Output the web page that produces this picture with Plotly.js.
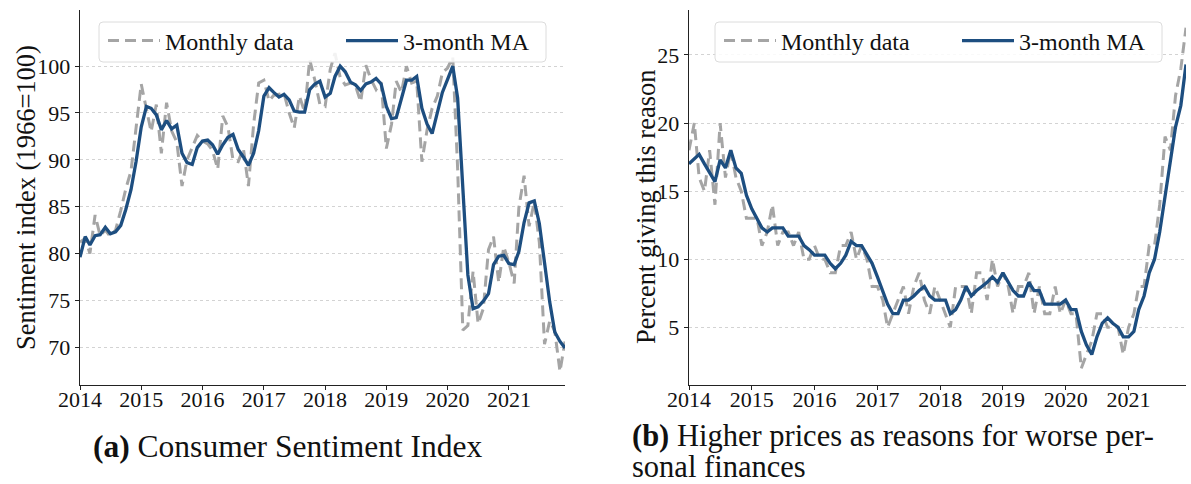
<!DOCTYPE html>
<html>
<head>
<meta charset="utf-8">
<script src="https://cdn.plot.ly/plotly-3.0.1.min.js"></script>
<style>
  html, body { margin: 0; padding: 0; background: #fff; overflow: hidden; }
  #chart { width: 1191px; height: 484px; }
</style>
</head>
<body>
<div id="chart"></div>
<script>
// ---------- data ----------
const startYear = 2014;
const yearTicks = ['2014', '2015', '2016', '2017', '2018', '2019', '2020', '2021'];

// Panel (a): Consumer Sentiment Index, monthly, Jan 2014 - Dec 2021
const sentimentMonthly = [
  81.2, 81.6, 80.0, 84.1, 81.9, 82.5, 81.8, 82.5, 84.6, 86.9, 88.8, 93.6,
  98.1, 95.4, 93.0, 95.9, 90.7, 96.1, 93.1, 91.9, 87.2, 90.0, 91.3, 92.6,
  92.0, 91.7, 91.0, 89.0, 94.7, 93.5, 90.0, 89.8, 91.2, 87.2, 93.8, 98.2,
  98.5, 96.3, 96.9, 97.0, 97.1, 95.0, 93.4, 96.8, 95.1, 100.7, 98.5, 95.9,
  95.7, 99.7, 101.4, 98.8, 98.0, 98.2, 97.9, 96.2, 100.1, 98.6, 97.5, 98.3,
  91.2, 93.8, 98.4, 97.2, 100.0, 98.2, 98.4, 89.8, 93.2, 95.5, 96.8, 99.3,
  99.8, 101.0, 89.1, 71.8, 72.3, 78.1, 72.5, 74.1, 80.4, 81.8, 76.9, 80.7,
  79.0, 76.8, 84.9, 88.3, 82.9, 85.5, 81.2, 70.3, 72.8, 71.7, 67.4, 70.6
];
const sentimentMA = [
  79.6, 81.8, 80.9, 81.9, 82.0, 82.8, 82.1, 82.3, 83.0, 84.7, 86.8, 89.8,
  93.5, 95.7, 95.5, 94.8, 93.2, 94.2, 93.3, 93.7, 90.7, 89.7, 89.5, 91.3,
  92.0, 92.1, 91.6, 90.6, 91.6, 92.4, 92.7, 91.1, 90.3, 89.4, 90.7, 93.1,
  96.8, 97.7, 97.2, 96.7, 97.0, 96.4, 95.2, 95.1, 95.1, 97.5, 98.1, 98.4,
  96.7, 97.1, 98.9, 100.0, 99.4, 98.3, 98.0, 97.4, 98.1, 98.3, 98.7, 98.1,
  95.7, 94.4, 94.5, 96.5, 98.5, 98.5, 98.9, 95.5, 93.8, 92.8, 95.2, 97.2,
  98.6, 100.0, 96.6, 87.3, 77.7, 74.1, 74.3, 74.9, 75.7, 78.8, 79.7, 79.8,
  78.9, 78.8, 80.2, 83.3, 85.4, 85.6, 83.2, 79.0, 74.8, 71.6, 70.6, 69.9
];

// Panel (b): Higher prices as reasons for worse personal finances (%)
const pricesMonthly = [
  18, 20, 16, 15, 18, 14, 20, 16, 18, 16, 15, 13,
  13, 13, 11, 12, 14, 11, 12, 12, 11, 12, 10, 10,
  11, 10, 10, 9, 9, 11, 11, 12, 10, 11, 10, 8,
  8, 7, 5, 6, 7, 8, 6, 8, 9, 7, 6, 8,
  7, 6, 5, 8, 8, 8, 6, 9, 9, 7, 10, 8,
  9, 8, 6, 8, 8, 9, 6, 8, 6, 6, 8, 6,
  7, 6, 6, 2, 3, 4, 6, 6, 5, 5, 5, 3,
  5, 6, 8, 8, 11, 11, 14, 19, 18, 22, 24, 27
];
const pricesMA = [
  17.0, 17.4, 17.7, 17.0, 16.3, 15.7, 17.3, 16.7, 18.0, 16.7, 16.3, 14.7,
  13.7, 13.0, 12.3, 12.0, 12.3, 12.3, 12.3, 11.7, 11.7, 11.7, 11.0, 10.7,
  10.3, 10.3, 10.3, 9.7, 9.3, 9.7, 10.3, 11.3, 11.0, 11.0, 10.3, 9.7,
  8.7, 7.7, 6.7, 6.0, 6.0, 7.0, 7.0, 7.3, 7.7, 8.0, 7.3, 7.0,
  7.0, 7.0, 6.0, 6.3, 7.0, 8.0, 7.3, 7.7, 8.0, 8.3, 8.7, 8.3,
  9.0, 8.3, 7.7, 7.3, 7.3, 8.3, 7.7, 7.7, 6.7, 6.7, 6.7, 6.7,
  7.0, 6.3, 6.3, 4.7, 3.7, 3.0, 4.3, 5.3, 5.7, 5.3, 5.0, 4.3,
  4.3, 4.7, 6.3, 7.3, 9.0, 10.0, 12.0, 14.7, 17.0, 19.7, 21.3, 24.3
];

const seriesNames = ['Monthly data', '3-month MA'];
const yTitles = ['Sentiment index (1966=100)', 'Percent giving this reason'];
const captionA = '<b>(a)</b> Consumer Sentiment Index';
const captionB1 = '<b>(b)</b> Higher prices as reasons for worse per-';
const captionB2 = 'sonal finances';

// month dates
const dates = [];
for (let i = 0; i < sentimentMonthly.length; i++) {
  const y = startYear + Math.floor(i / 12);
  const m = (i % 12) + 1;
  dates.push(y + '-' + String(m).padStart(2, '0') + '-01');
}
const tickVals = yearTicks.map(y => y + '-01-01');

// ---------- styles ----------
const GREY = '#a5a5a5';
const BLUE = '#1d4e80';
const FONT = 'Liberation Serif, DejaVu Serif, serif';
const W = 1191, H = 484;
const px = v => v / W;
const py = v => 1 - v / H;

function dashed(x, y, name, xa, ya, leg) {
  return { x: x, y: y, name: name, type: 'scatter', mode: 'lines',
    xaxis: xa, yaxis: ya, legend: leg, showlegend: true,
    line: { color: GREY, width: 3, dash: '11px,6px' } };
}
function solid(x, y, name, xa, ya, leg) {
  return { x: x, y: y, name: name, type: 'scatter', mode: 'lines',
    xaxis: xa, yaxis: ya, legend: leg, showlegend: true,
    line: { color: BLUE, width: 3.3 } };
}

const data = [
  dashed(dates, sentimentMonthly, seriesNames[0], 'x', 'y', 'legend'),
  solid(dates, sentimentMA, seriesNames[1], 'x', 'y', 'legend2'),
  dashed(dates, pricesMonthly, seriesNames[0], 'x2', 'y2', 'legend3'),
  solid(dates, pricesMA, seriesNames[1], 'x2', 'y2', 'legend4')
];

const xCommon = {
  type: 'date', tickmode: 'array', tickvals: tickVals, ticktext: yearTicks,
  showgrid: false, zeroline: false, showline: true, linecolor: '#222', linewidth: 1.3,
  ticks: 'outside', ticklen: 4, tickcolor: '#222', tickwidth: 1, ticklabelstandoff: -9,
  tickfont: { family: FONT, size: 22, color: '#111' }, automargin: false,
  range: [dates[0], dates[dates.length - 1]], fixedrange: true
};
const yCommon = {
  showgrid: true, gridcolor: '#c8c8c8', gridwidth: 0.8, griddash: 'dot',
  zeroline: false, showline: true, linecolor: '#222', linewidth: 1.3,
  ticks: 'outside', ticklen: 4, tickcolor: '#222', tickwidth: 1,
  tickfont: { family: FONT, size: 22, color: '#111' }, automargin: false,
  domain: [py(384.5), py(10)], fixedrange: true
};

const legendCommon = {
  orientation: 'h', bgcolor: 'rgba(0,0,0,0)', borderwidth: 0,
  font: { family: FONT, size: 24, color: '#111' }, xanchor: 'left', yanchor: 'middle',
  itemwidth: 52, y: py(41)
};

// rounded legend frame (paper coords built from pixel corners)
function roundedBox(x0, y0, x1, y1, r) {
  const X = v => px(v), Y = v => py(v);
  return 'M' + X(x0 + r) + ',' + Y(y0) +
    ' L' + X(x1 - r) + ',' + Y(y0) + ' Q' + X(x1) + ',' + Y(y0) + ' ' + X(x1) + ',' + Y(y0 + r) +
    ' L' + X(x1) + ',' + Y(y1 - r) + ' Q' + X(x1) + ',' + Y(y1) + ' ' + X(x1 - r) + ',' + Y(y1) +
    ' L' + X(x0 + r) + ',' + Y(y1) + ' Q' + X(x0) + ',' + Y(y1) + ' ' + X(x0) + ',' + Y(y1 - r) +
    ' L' + X(x0) + ',' + Y(y0 + r) + ' Q' + X(x0) + ',' + Y(y0) + ' ' + X(x0 + r) + ',' + Y(y0) + ' Z';
}
const frameStyle = { type: 'path', xref: 'paper', yref: 'paper', layer: 'above',
  fillcolor: 'rgba(255,255,255,0.85)', line: { color: '#dcdcdc', width: 1 } };

const layout = {
  width: W, height: H,
  margin: { l: 0, r: 0, t: 0, b: 0, autoexpand: false },
  paper_bgcolor: '#fff', plot_bgcolor: '#fff',
  font: { family: FONT, color: '#111' },
  xaxis: Object.assign({}, xCommon, { domain: [px(80), px(565)], anchor: 'y' }),
  yaxis: Object.assign({}, yCommon, { anchor: 'x', range: [66, 106],
    tickvals: [70, 75, 80, 85, 90, 95, 100] }),
  xaxis2: Object.assign({}, xCommon, { domain: [px(689), px(1186)], anchor: 'y2' }),
  yaxis2: Object.assign({}, yCommon, { anchor: 'x2', range: [0.8, 28.3],
    tickvals: [5, 10, 15, 20, 25] }),
  legend: Object.assign({}, legendCommon, { x: px(103) }),
  legend2: Object.assign({}, legendCommon, { x: px(341) }),
  legend3: Object.assign({}, legendCommon, { x: px(719) }),
  legend4: Object.assign({}, legendCommon, { x: px(957) }),
  shapes: [
    Object.assign({ path: roundedBox(99, 22, 546, 62, 4) }, frameStyle),
    Object.assign({ path: roundedBox(715, 22, 1162, 62, 4) }, frameStyle)
  ],
  annotations: [
    { text: yTitles[0], xref: 'paper', yref: 'paper', x: px(26), y: py(198),
      xanchor: 'center', yanchor: 'middle',
      textangle: -90, showarrow: false, font: { family: FONT, size: 26.5, color: '#111' } },
    { text: yTitles[1], xref: 'paper', yref: 'paper', x: px(646), y: py(207),
      xanchor: 'center', yanchor: 'middle',
      textangle: -90, showarrow: false, font: { family: FONT, size: 26.5, color: '#111' } },
    { text: captionA, xref: 'paper', yref: 'paper', x: px(288), y: py(446),
      xanchor: 'center', yanchor: 'middle',
      showarrow: false, font: { family: FONT, size: 31.5, color: '#111' } },
    { text: captionB1, xref: 'paper', yref: 'paper', x: px(630), y: py(436),
      xanchor: 'left', yanchor: 'middle', showarrow: false, font: { family: FONT, size: 30.5, color: '#111' } },
    { text: captionB2, xref: 'paper', yref: 'paper', x: px(630), y: py(467),
      xanchor: 'left', yanchor: 'middle', showarrow: false, font: { family: FONT, size: 30.5, color: '#111' } }
  ]
};

Plotly.newPlot('chart', data, layout, { displayModeBar: false, staticPlot: true });
</script>
</body>
</html>
